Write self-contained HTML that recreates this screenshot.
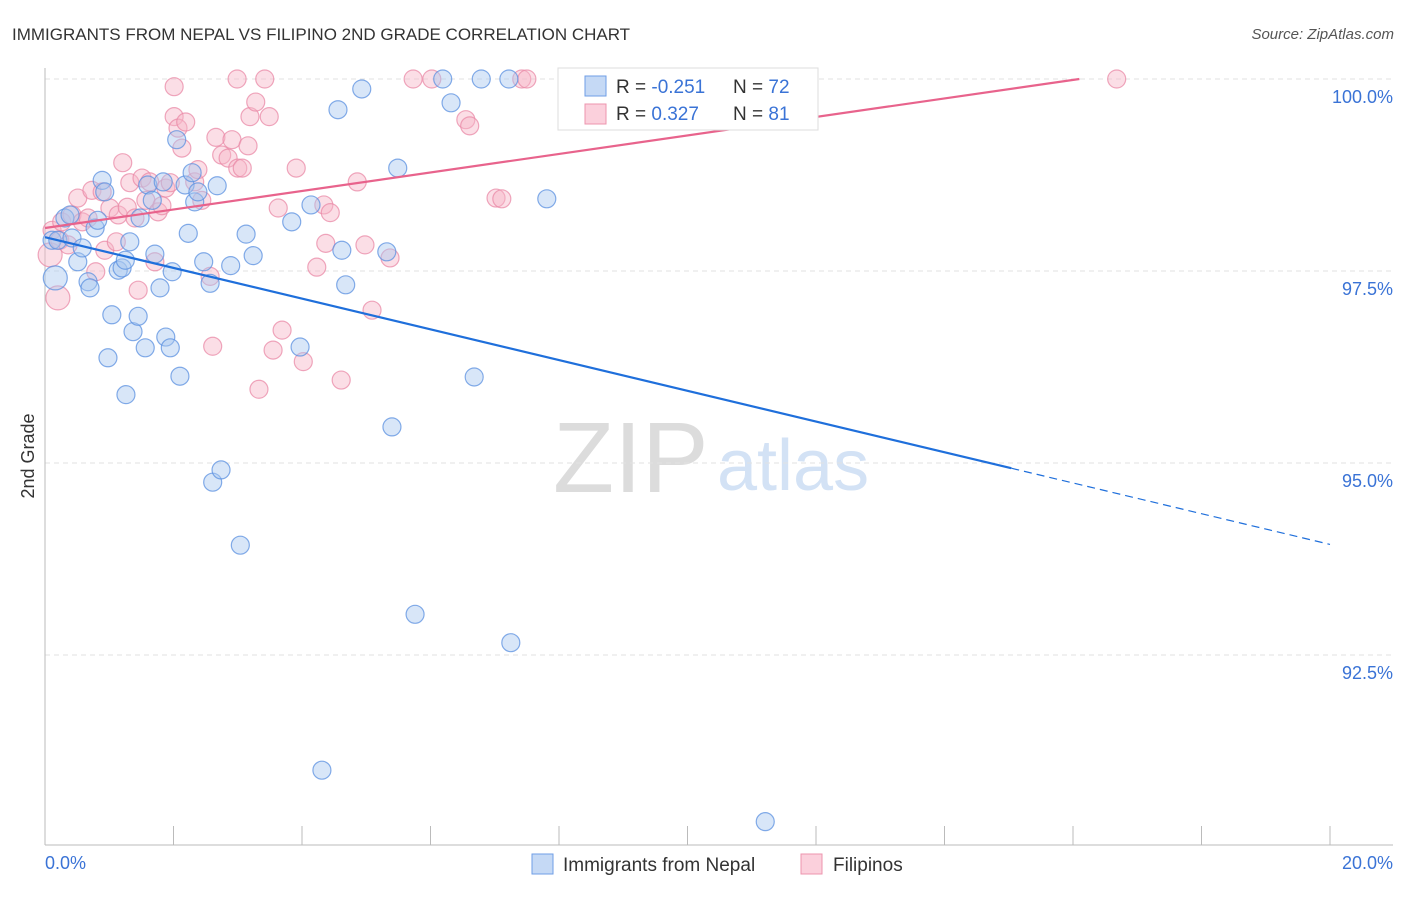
<!DOCTYPE html>
<html><head><meta charset="utf-8"><style>
body{margin:0;background:#fff;font-family:"Liberation Sans",sans-serif}
svg text{font-family:"Liberation Sans",sans-serif}
</style></head><body>
<svg id="chart" width="1406" height="892" viewBox="0 0 1406 892">
<text x="12" y="40" font-size="17" fill="#333">IMMIGRANTS FROM NEPAL VS FILIPINO 2ND GRADE CORRELATION CHART</text>
<text x="1394" y="39" font-size="15" fill="#555" font-style="italic" text-anchor="end">Source: ZipAtlas.com</text>
<g>
<text x="553" y="492" font-size="100" fill="#dcdcdc" font-family="Liberation Serif">ZIP</text>
<text x="717" y="490" font-size="72" fill="#d3e2f5">atlas</text>
</g>
<g id="grid"></g>
<g id="axes"></g>
<g id="pts"></g>
<g id="trend"></g>
<text transform="translate(34,456) rotate(-90)" font-size="18" fill="#333" text-anchor="middle">2nd Grade</text>
<text x="45" y="869" font-size="18" fill="#3a73d6">0.0%</text>
<text x="1393" y="869" font-size="18" fill="#3a73d6" text-anchor="end">20.0%</text>
<g>
<rect x="558" y="68" width="260" height="62" fill="#fff" stroke="#ddd"/>
<rect x="585" y="76" width="21" height="20" fill="#c5d9f5" stroke="#6f9ee6"/>
<rect x="585" y="104" width="21" height="20" fill="#fbd0dc" stroke="#ec94ae"/>
<text x="616" y="93" font-size="19" fill="#333">R = <tspan fill="#3a73d6">-0.251</tspan></text>
<text x="733" y="93" font-size="19" fill="#333">N = <tspan fill="#3a73d6">72</tspan></text>
<text x="616" y="120" font-size="19" fill="#333">R =  <tspan fill="#3a73d6">0.327</tspan></text>
<text x="733" y="120" font-size="19" fill="#333">N =  <tspan fill="#3a73d6">81</tspan></text>
</g>
<g>
<rect x="532" y="854" width="21" height="20" fill="#c5d9f5" stroke="#6f9ee6"/>
<text x="563" y="871" font-size="19" fill="#333">Immigrants from Nepal</text>
<rect x="801" y="854" width="21" height="20" fill="#fbd0dc" stroke="#ec94ae"/>
<text x="833" y="871" font-size="19" fill="#333">Filipinos</text>
</g>
</svg>
<script>
const yTicks=[100,97.5,95,92.5];
const yTickLabels=["100.0%","97.5%","95.0%","92.5%"];
const xTicks=[0,2,4,6,8,10,12,14,16,18,20];
const nepalX=[.16,.11,.20,.31,.39,.42,.51,.58,.67,.70,.78,.82,.89,.93,.98,1.04,1.14,1.20,1.25,1.26,1.32,1.37,1.45,1.48,1.56,1.60,1.67,1.71,1.79,1.84,1.88,1.95,1.98,2.05,2.10,2.18,2.23,2.29,2.33,2.38,2.47,2.57,2.61,2.68,2.74,2.89,3.04,3.13,3.24,3.84,3.97,4.14,4.31,4.56,4.62,4.68,4.93,5.32,5.40,5.49,5.76,6.19,6.32,6.68,6.79,7.22,7.25,7.81,11.21];
const nepalY=[97.41,97.90,97.90,98.19,98.23,97.93,97.62,97.80,97.36,97.28,98.06,98.16,98.68,98.53,96.37,96.93,97.51,97.54,97.64,95.89,97.88,96.71,96.91,98.19,96.50,98.62,98.42,97.72,97.28,98.66,96.64,96.50,97.49,99.21,96.13,98.62,97.99,98.78,98.40,98.53,97.62,97.34,94.75,98.61,94.91,97.57,93.93,97.98,97.70,98.14,96.51,98.36,91.00,99.60,97.77,97.32,99.87,97.75,95.47,98.84,93.03,100,99.69,96.12,100,100,92.66,98.44,90.33];
const filX=[.08,.20,.11,.23,.26,.36,.42,.51,.58,.67,.73,.79,.89,.93,1.01,1.11,1.14,1.21,1.28,1.32,1.40,1.45,1.51,1.57,1.63,1.71,1.76,1.82,1.88,1.95,2.01,2.01,2.07,2.13,2.19,2.33,2.38,2.44,2.57,2.61,2.66,2.75,2.85,2.91,2.99,3.00,3.07,3.16,3.19,3.28,3.33,3.42,3.49,3.63,3.69,3.55,3.91,4.02,4.23,4.34,4.37,4.44,4.61,4.86,4.98,5.09,5.37,5.73,6.02,6.55,6.61,7.02,7.11,7.42,7.50,11.75,16.68];
const filY=[97.71,97.15,98.03,97.90,98.14,97.84,98.23,98.45,98.14,98.19,98.55,97.49,98.53,97.77,98.32,97.88,98.23,98.91,98.33,98.65,98.19,97.25,98.71,98.42,98.66,97.62,98.27,98.35,98.58,98.65,99.90,99.51,99.36,99.10,99.44,98.66,98.82,98.42,97.43,96.52,99.24,99.01,98.97,99.21,100,98.84,98.84,99.13,99.51,99.70,95.96,100,99.51,98.32,96.73,96.47,98.84,96.32,97.55,98.36,97.86,98.26,96.08,98.66,97.84,96.99,97.67,100,100,99.47,99.39,98.45,98.44,100,100,100,100];
const nepalTrend=[97.94,-0.2];     // intercept, slope per %
const filTrend=[98.06,0.1205];
const X=v=>45+v*64.25, Y=v=>79+(100-v)*76.8;
const NS="http://www.w3.org/2000/svg";
function mk(tag,attrs,parent){const e=document.createElementNS(NS,tag);for(const k in attrs)e.setAttribute(k,attrs[k]);document.getElementById(parent).appendChild(e);return e;}
yTicks.forEach((t,i)=>{
 const l=mk('line',{x1:45,x2:1393,y1:Y(t),y2:Y(t),stroke:'#e2e2e2','stroke-dasharray':'5,4'},'grid');
 
 
 const tx=mk('text',{x:1393,y:Y(t)+24,'font-size':18,fill:'#3a73d6','text-anchor':'end'},'grid');
 tx.textContent=yTickLabels[i];
 
 
});
const ax=mk('line',{x1:45,x2:45,y1:68,y2:845,stroke:'#bbb'},'axes');


const bx=mk('line',{x1:45,x2:1393,y1:845,y2:845,stroke:'#bbb'},'axes');


xTicks.forEach(t=>{
 const l=mk('line',{x1:X(t),x2:X(t),y1:826,y2:845,stroke:'#bbb'},'axes');
 
 
});
function dots(xs,ys,fill,stroke,name){
 xs.forEach((x,i)=>{
  const big=(i<2&&name==='filipinos-point')||(i===0&&name==='nepal-point');
  const c=mk('circle',{cx:X(x),cy:Y(ys[i]),r:big?12:9,fill:fill,'fill-opacity':0.45,stroke:stroke,'stroke-opacity':0.75,'stroke-width':1.2},'pts');
  
  
 });
}
dots(filX,filY,'#f7b6c8','#e98aa7','filipinos-point');
dots(nepalX,nepalY,'#a9c8f0','#5b90e0','nepal-point');
const nx1=15.04;
const n1=mk('line',{x1:X(0),y1:Y(nepalTrend[0]),x2:X(nx1),y2:Y(nepalTrend[0]+nepalTrend[1]*nx1),stroke:'#1f6fdb','stroke-width':2.2},'trend');


const n2=mk('line',{x1:X(nx1),y1:Y(nepalTrend[0]+nepalTrend[1]*nx1),x2:X(20),y2:Y(nepalTrend[0]+nepalTrend[1]*20),stroke:'#1f6fdb','stroke-width':1.2,'stroke-dasharray':'8,5'},'trend');


const fx1=(100-filTrend[0])/filTrend[1];
const f1=mk('line',{x1:X(0),y1:Y(filTrend[0]),x2:X(fx1),y2:Y(100),stroke:'#e8638c','stroke-width':2.2},'trend');


</script>
</body></html>
